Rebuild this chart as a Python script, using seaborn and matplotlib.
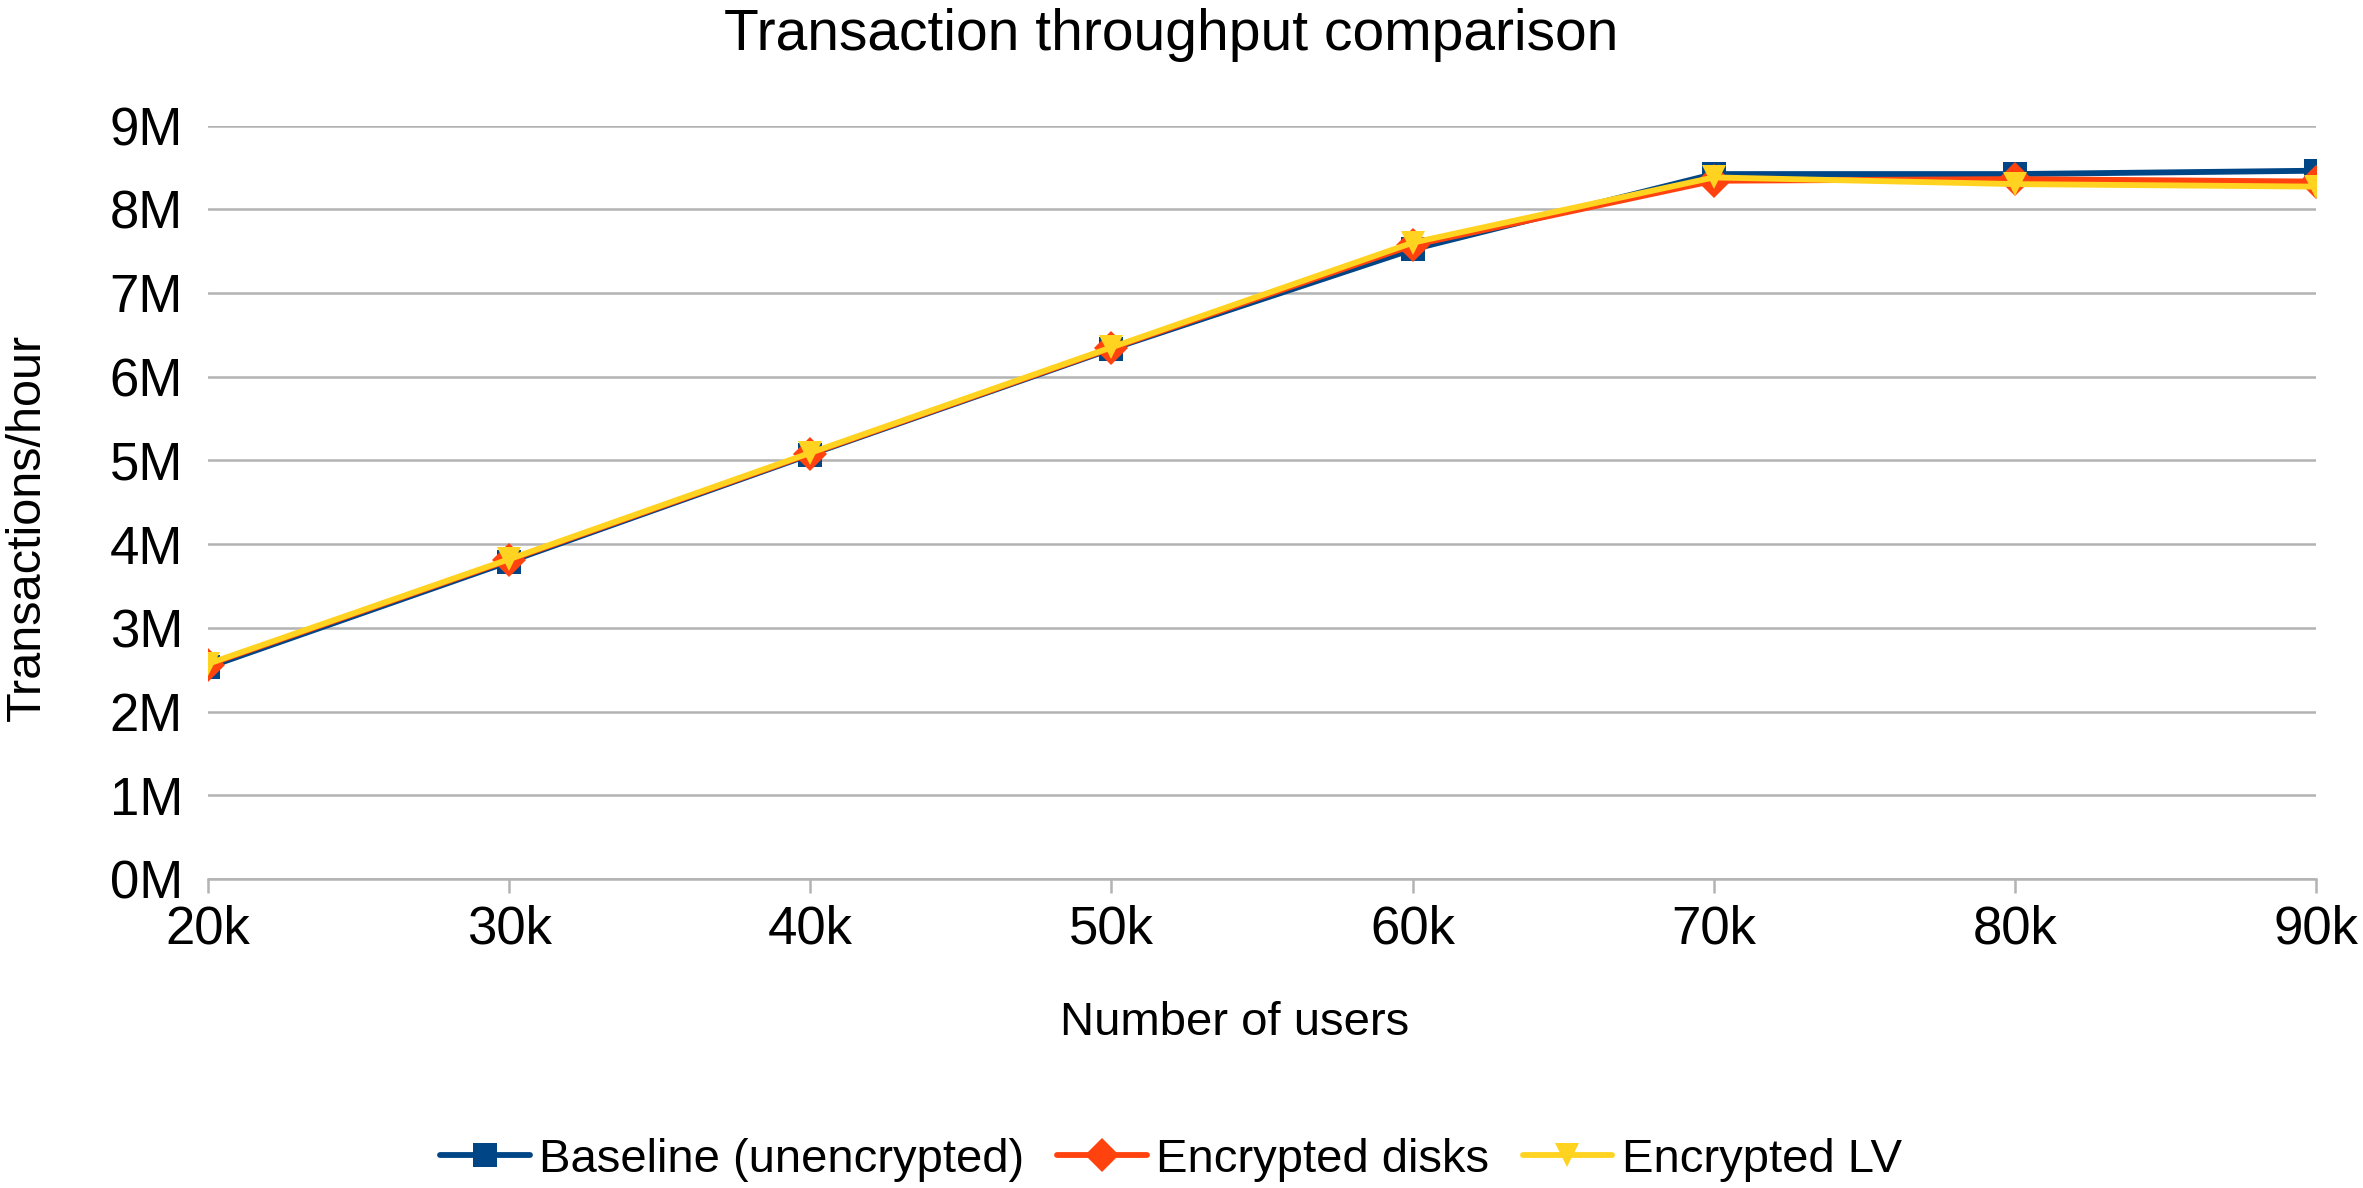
import matplotlib
matplotlib.use("Agg")
import matplotlib.pyplot as plt
import matplotlib.ticker as mticker
import seaborn as sns
import pandas as pd

users = [20000, 30000, 40000, 50000, 60000, 70000, 80000, 90000]
baseline = [2.53e6, 3.79e6, 5.07e6, 6.33e6, 7.52e6, 8.42e6, 8.42e6, 8.46e6]
enc_disks = [2.56e6, 3.81e6, 5.08e6, 6.34e6, 7.57e6, 8.34e6, 8.36e6, 8.33e6]
enc_lv = [2.57e6, 3.82e6, 5.09e6, 6.35e6, 7.60e6, 8.38e6, 8.30e6, 8.27e6]
series_names = ["Baseline (unencrypted)", "Encrypted disks", "Encrypted LV"]
x_ticks = [20000, 30000, 40000, 50000, 60000, 70000, 80000, 90000]
y_ticks = [0, 1e6, 2e6, 3e6, 4e6, 5e6, 6e6, 7e6, 8e6, 9e6]

sns.set_theme(style="white")
plt.rcParams['font.family'] = ['Liberation Sans', 'DejaVu Sans']
plt.rcParams['text.color'] = 'black'

rows = []
for name, vals in zip(series_names, [baseline, enc_disks, enc_lv]):
    for u, v in zip(users, vals):
        rows.append({"users": u, "tph": v, "series": name})
df = pd.DataFrame(rows)

palette = {series_names[0]: "#004586", series_names[1]: "#ff420e", series_names[2]: "#ffd320"}
markers = {series_names[0]: "s", series_names[1]: "D", series_names[2]: "v"}

fig = plt.figure(figsize=(23.63, 11.88), dpi=100)
ax = fig.add_axes([208/2363, 1 - 879/1188, (2316 - 208)/2363, (879 - 125.5)/1188])

sns.lineplot(data=df, x="users", y="tph", hue="series", style="series",
             hue_order=series_names, style_order=series_names,
             palette=palette, markers=markers, dashes=False,
             linewidth=4.2, markersize=17, markeredgewidth=0,
             ax=ax, legend=True)

ax.set_xlim(20000, 90000)
ax.set_ylim(0, 9e6)
ax.set_xticks(x_ticks)
ax.set_yticks(y_ticks)
ax.xaxis.set_major_formatter(mticker.FuncFormatter(lambda v, p: f"{v/1000:.0f}k"))
ax.yaxis.set_major_formatter(mticker.FuncFormatter(lambda v, p: f"{v/1e6:.0f}M"))
ax.grid(axis="y", color="#b3b3b3", linewidth=1.8)
ax.grid(axis="x", visible=False)
ax.set_axisbelow(True)
for s in ["top", "right", "left"]:
    ax.spines[s].set_visible(False)
ax.spines["bottom"].set_color("#b3b3b3")
ax.spines["bottom"].set_linewidth(1.8)
ax.tick_params(axis="x", which="major", bottom=True, length=10, width=1.8,
               color="#b3b3b3", labelsize=38, pad=8, labelcolor="black")
ax.tick_params(axis="y", which="major", left=False, labelsize=38, pad=12, labelcolor="black")

ax.set_xlabel("Number of users", fontsize=34, color="black", va="top")
ax.xaxis.set_label_coords(0.487, -0.162)
ax.set_ylabel("Transactions/hour", fontsize=35, color="black")
ax.yaxis.set_label_coords(-0.075, 0.467)
ax.set_title("Transaction throughput comparison", fontsize=41, pad=54, color="black", x=0.457)

handles, labels = ax.get_legend_handles_labels()
ax.get_legend().remove()
fig.legend(handles, labels, loc="center", bbox_to_anchor=(0.4955, 1 - 1160/1188),
           ncol=3, frameon=False, fontsize=34, handlelength=1.9,
           handletextpad=0.2, columnspacing=0.7, markerscale=1.0,
           labelcolor="black")

fig.savefig("out.png", dpi=100, facecolor="white")
